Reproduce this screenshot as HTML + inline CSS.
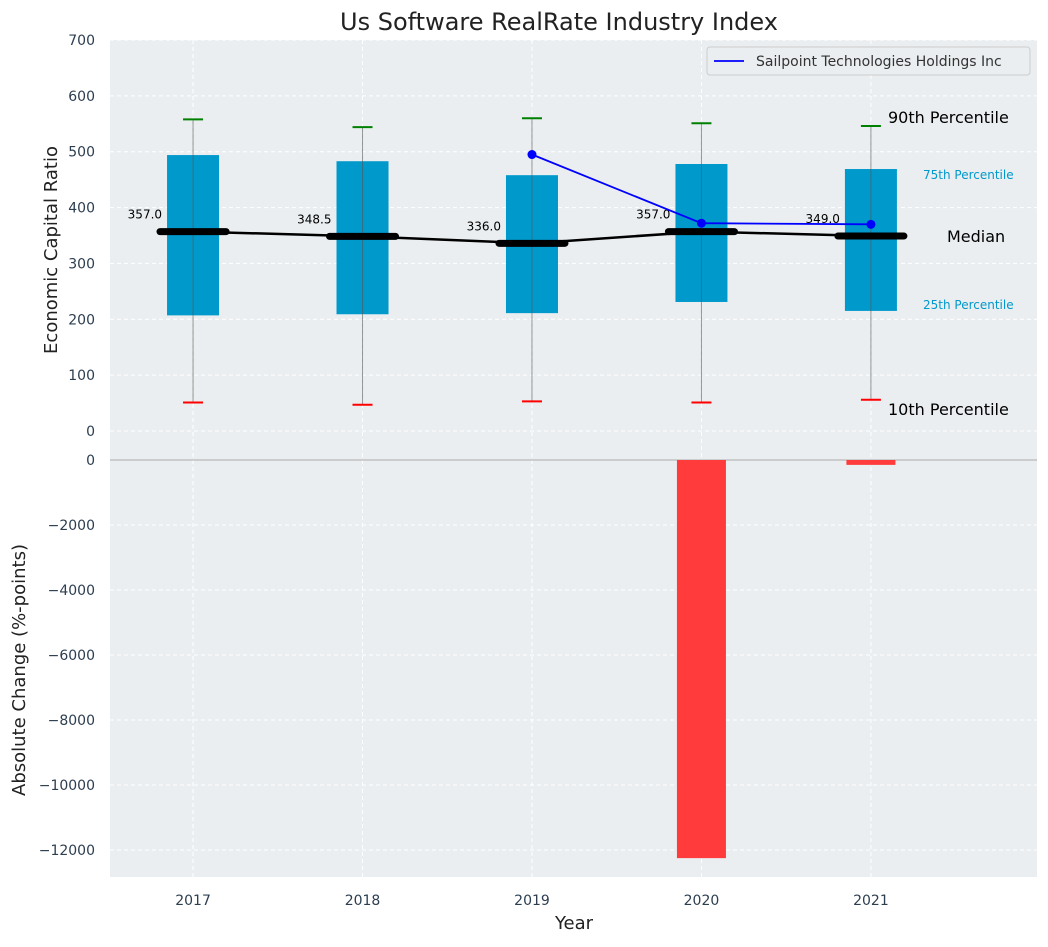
<!DOCTYPE html>
<html><head><meta charset="utf-8"><style>
body{margin:0;background:#fff;font-family:"Liberation Sans","DejaVu Sans",sans-serif}
svg text{font-family:"DejaVu Sans","Liberation Sans",sans-serif}
</style></head><body>
<svg id="c" width="1048" height="942" xmlns="http://www.w3.org/2000/svg"></svg>
<script>
const years=["2017","2018","2019","2020","2021"];
const q1=[207,209,211,231,215];
const q3=[494,483,458,478,469];
const p10=[51,47,53,51,56];
const p90=[558,544,560,551,546];
const medians=[357,348.5,336,357,349];
const companyYears=[2,3,4];
const companyVals=[495,372,370];
const changes=[0,0,0,-12250,-150];
const topTicks=[0,100,200,300,400,500,600,700];
const botTicks=[0,-2000,-4000,-6000,-8000,-10000,-12000];

const S=document.getElementById('c');const NS='http://www.w3.org/2000/svg';
function el(t,a,txt,p){const e=document.createElementNS(NS,t);for(const k in a)e.setAttribute(k,a[k]);if(txt!=null)e.textContent=txt;(p||S).appendChild(e);return e;}
const L=110,R=1037;
const X=i=>L+(i+0.49)*(R-L)/5.47;
const YT=v=>431-v*(431-40)/700;
const YB=v=>460+v*(850-460)/(-12000)*-1*-1;
function yb(v){return 460-v*(390/12000);}
// backgrounds
let e=el('rect',{x:L,y:40,width:R-L,height:419,fill:'#eaeef0'});

e=el('rect',{x:L,y:459,width:R-L,height:418,fill:'#eaeef0'});

// grids
topTicks.forEach(t=>{el('line',{x1:L,x2:R,y1:YT(t),y2:YT(t),stroke:'#fff','stroke-dasharray':'4,3','stroke-width':1});
 e=el('text',{x:95,y:YT(t)+5,'text-anchor':'end','font-size':14,fill:'#2c3e50'},String(t));
 });
botTicks.forEach(t=>{el('line',{x1:L,x2:R,y1:yb(t),y2:yb(t),stroke:'#fff','stroke-dasharray':'4,3','stroke-width':1});
 e=el('text',{x:95,y:yb(t)+5,'text-anchor':'end','font-size':14,fill:'#2c3e50'},String(t).replace('-','−'));
 });
years.forEach((y,i)=>{el('line',{x1:X(i),x2:X(i),y1:40,y2:877,stroke:'#fff','stroke-dasharray':'4,3','stroke-width':1});
 e=el('text',{x:X(i),y:905,'text-anchor':'middle','font-size':14,fill:'#2c3e50'},y);
 });
el('line',{x1:L,x2:R,y1:460,y2:460,stroke:'#aaa','stroke-width':1});
// boxes
years.forEach((y,i)=>{const x=X(i);
 e=el('rect',{x:x-26,y:YT(q3[i]),width:52,height:YT(q1[i])-YT(q3[i]),fill:'#0099cc'});
 
 el('line',{x1:x,x2:x,y1:YT(p90[i]),y2:YT(p10[i]),stroke:'#555','stroke-width':1,opacity:0.6});
 el('line',{x1:x-10,x2:x+10,y1:YT(p90[i]),y2:YT(p90[i]),stroke:'green','stroke-width':2});
 el('line',{x1:x-10,x2:x+10,y1:YT(p10[i]),y2:YT(p10[i]),stroke:'red','stroke-width':2});
});
let pts=medians.map((m,i)=>X(i)+','+YT(m)).join(' ');
e=el('polyline',{points:pts,fill:'none',stroke:'#000','stroke-width':2.5});

medians.forEach((m,i)=>{const x=X(i);
 e=el('line',{x1:x-33,x2:x+33,y1:YT(m),y2:YT(m),stroke:'#000','stroke-width':7,'stroke-linecap':'round'});
 
 e=el('text',{x:x-31,y:YT(m)-13,'text-anchor':'end','font-size':12,fill:'#000'},m.toFixed(1));
 });
e=el('polyline',{points:companyYears.map((k,j)=>X(k)+','+YT(companyVals[j])).join(' '),fill:'none',stroke:'blue','stroke-width':1.8});

companyYears.forEach((k,j)=>{e=el('circle',{cx:X(k),cy:YT(companyVals[j]),r:4.5,fill:'blue'});
 });
// bars
changes.forEach((v,i)=>{if(!v)return;const x=X(i);
 e=el('rect',{x:x-24.5,y:460,width:49,height:yb(v)-460,fill:'#ff3b3b'});
 });
// annotations
const ann=[["90th Percentile",888,123,16,'#000'],["75th Percentile",923,179,12,'#0099cc'],["Median",947,242,16,'#000'],["25th Percentile",923,309,12,'#0099cc'],["10th Percentile",888,415,16,'#000']];
ann.forEach(a=>{e=el('text',{x:a[1],y:a[2],'font-size':a[3],fill:a[4]},a[0]);
 });
// legend
e=el('rect',{x:707,y:47,width:323,height:28,fill:'#eaeef0',stroke:'#ccc',rx:3});

el('line',{x1:714,x2:744,y1:61,y2:61,stroke:'blue','stroke-width':1.8});
e=el('text',{x:756,y:66,'font-size':14,fill:'#333'},'Sailpoint Technologies Holdings Inc');

// titles
e=el('text',{x:559,y:30,'text-anchor':'middle','font-size':24,fill:'#222'},'Us Software RealRate Industry Index');

e=el('text',{x:574,y:929,'text-anchor':'middle','font-size':18,fill:'#222'},'Year');

e=el('text',{x:0,y:0,'text-anchor':'middle','font-size':18,fill:'#222',transform:'translate(57,250) rotate(-90)'},'Economic Capital Ratio');

e=el('text',{x:0,y:0,'text-anchor':'middle','font-size':18,fill:'#222',transform:'translate(25,670) rotate(-90)'},'Absolute Change (%-points)');

</script>
</body></html>
